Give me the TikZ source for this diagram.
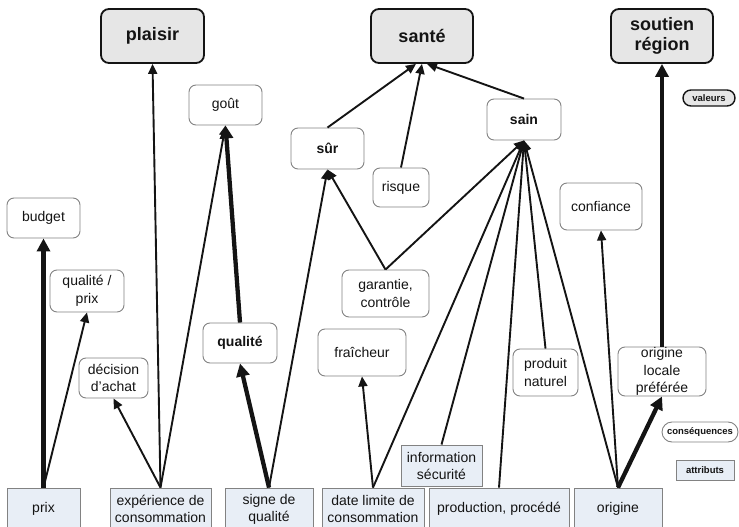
\documentclass[tikz,border=0pt]{standalone}
\usepackage{fontspec}
\setmainfont{Liberation Sans}
\usetikzlibrary{arrows.meta}

\definecolor{valfill}{RGB}{230,230,230}
\definecolor{attfill}{RGB}{232,238,246}
\definecolor{boxline}{RGB}{130,130,130}
\definecolor{ink}{RGB}{20,20,20}

\tikzset{
  valbox/.style={draw=ink, line width=1.8pt, fill=valfill, rounded corners=8pt,
    inner sep=0pt, align=center, text=ink,
    font=\fontsize{18}{20.5}\selectfont\bfseries},
  consbox/.style={draw=boxline, line width=0.9pt, fill=white, rounded corners=7pt,
    inner sep=0pt, align=center, text=ink,
    font=\fontsize{14}{17.5}\selectfont},
  consbold/.style={consbox, font=\fontsize{14}{17.5}\selectfont\bfseries},
  attbox/.style={draw=boxline, line width=0.9pt, fill=attfill,
    inner sep=0pt, align=center, text=ink,
    font=\fontsize{14}{17}\selectfont},
  legendfont/.style={font=\fontsize{9.5}{11}\selectfont\bfseries, text=ink, inner sep=0pt},
  link/.style={draw=ink, line width=1.9pt, -{Triangle[length=10pt,width=9pt]}},
  strong/.style={draw=ink, line width=4.3pt, -{Triangle[length=13pt,width=13pt]}},
}

\begin{document}
\begin{tikzpicture}[x=1pt, y=-1pt]
\useasboundingbox (0,0) rectangle (739,527);

% values
\node[valbox, minimum width=103pt, minimum height=54pt] (plaisir) at (152.5,36) {plaisir};
\node[valbox, minimum width=102pt, minimum height=54pt] (sante) at (422,36) {santé};
\node[valbox, minimum width=102pt, minimum height=54pt] (soutien) at (662,36) {soutien\\région};

% consequences
\node[consbox, minimum width=73pt, minimum height=40pt] (gout) at (225.5,105) {goût};
\node[consbold, minimum width=73pt, minimum height=41pt] (sur) at (327.5,148.5) {sûr};
\node[consbox, minimum width=73pt, minimum height=40pt] (budget) at (43.5,218) {budget};
\node[consbold, minimum width=74pt, minimum height=41pt] (sain) at (524,119.5) {sain};
\node[consbox, minimum width=56pt, minimum height=39pt] (risque) at (401,187.5) {risque};
\node[consbox, minimum width=82pt, minimum height=47pt] (confiance) at (601,206.5) {confiance};
\node[consbox, minimum width=74pt, minimum height=42pt] (qprix) at (87,291) {qualité /\\prix};
\node[consbox, minimum width=69pt, minimum height=40pt] (decision) at (113.5,378) {décision\\d’achat};
\node[consbold, minimum width=74pt, minimum height=40pt] (qualite) at (240,343) {qualité};
\node[consbox, minimum width=87pt, minimum height=47pt] (garantie) at (385.5,293.5) {garantie,\\contrôle};
\node[consbox, minimum width=88pt, minimum height=47pt] (fraicheur) at (362,352.5) {fraîcheur};
\node[consbox, minimum width=65pt, minimum height=47pt] (naturel) at (545.5,372.5) {produit\\naturel};
\node[consbox, minimum width=88pt, minimum height=49pt] (locale) at (662,371.5) {origine\\locale\\préférée};

% attributes
\node[attbox, minimum width=73pt, minimum height=42pt] (prix) at (43.5,509) {prix};
\node[attbox, minimum width=101pt, minimum height=42pt] (experience) at (160.5,509) {expérience de\\consommation};
\node[attbox, minimum width=88pt, minimum height=42pt] (signe) at (269,509) {signe de\\qualité};
\node[attbox, minimum width=102pt, minimum height=42pt] (dlc) at (373,509) {date limite de\\consommation};
\node[attbox, minimum width=140pt, minimum height=42pt] (production) at (499,509) {production, procédé};
\node[attbox, minimum width=88pt, minimum height=42pt] (origine) at (618,509) {origine};
\node[attbox, minimum width=81pt, minimum height=41pt] (info) at (441.5,465.5) {information\\sécurité};

% legend
\node[legendfont, draw=ink, line width=1.4pt, fill=valfill, rounded corners=8pt,
  minimum width=52pt, minimum height=16pt] (legval) at (709,98) {valeurs};
\node[legendfont, draw=boxline, line width=0.9pt, fill=white, rounded corners=10pt,
  minimum width=76pt, minimum height=20pt] (legcons) at (700,432) {conséquences};
\node[legendfont, draw=boxline, line width=0.9pt, fill=attfill,
  minimum width=58pt, minimum height=20pt] (legatt) at (705,470) {attributs};

% links from attributes
\draw[strong] (prix.north) -- (budget.south);
\draw[link] (prix.north) -- (qprix.south);
\draw[link] (experience.north) -- (decision.south);
\draw[link] (experience.north) -- (plaisir.south);
\draw[link] (experience.north) -- (gout.south);
\draw[strong] (signe.north) -- (qualite.south);
\draw[link] (signe.north) -- (sur.south);
\draw[link] (dlc.north) -- (fraicheur.south);
\draw[link] (dlc.north) -- (sain.south);
\draw[link] (info.north) -- (sain.south);
\draw[link] (production.north) -- (sain.south);
\draw[link] (origine.north) -- (sain.south);
\draw[link] (origine.north) -- (confiance.south);
\draw[strong] (origine.north) -- (locale.south);

% links between consequences and values
\draw[strong] (qualite.north) -- (gout.south);
\draw[link] (garantie.north) -- (sur.south);
\draw[link] (garantie.north) -- (sain.south);
\draw[link] (naturel.north) -- (sain.south);
\draw[link] (sur.north) -- ([xshift=-6pt]sante.south);
\draw[link] (risque.north) -- (sante.south);
\draw[link] (sain.north) -- ([xshift=5pt]sante.south);
\draw[strong] (locale.north) -- (soutien.south);
\end{tikzpicture}
\end{document}
